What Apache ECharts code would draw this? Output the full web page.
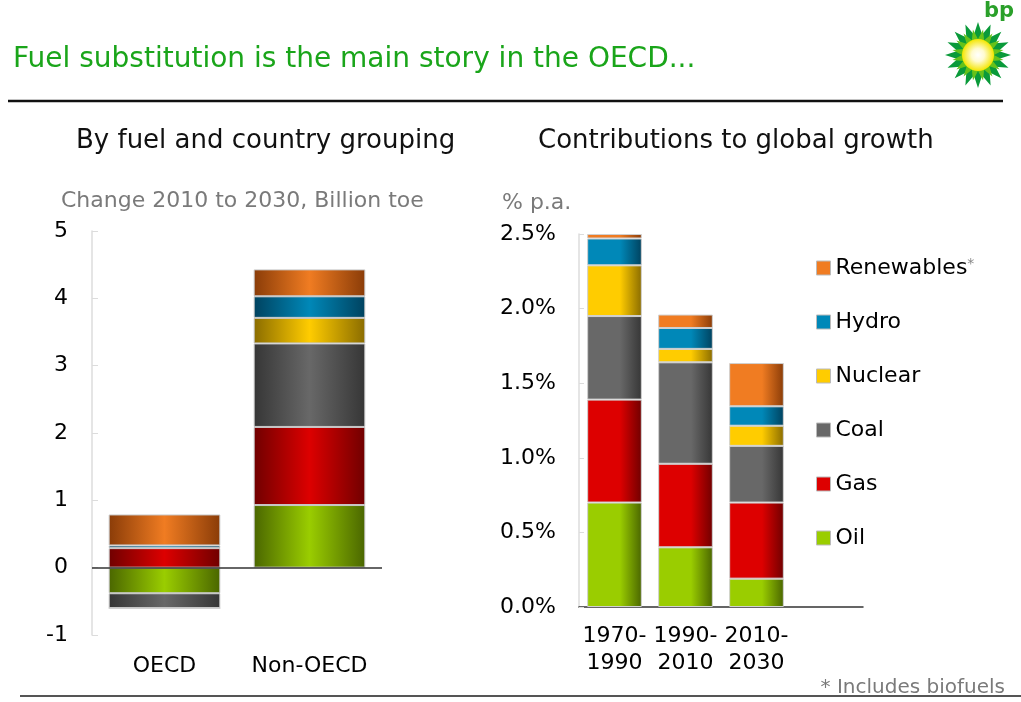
<!DOCTYPE html>
<html>
<head>
<meta charset="utf-8">
<script src="https://cdn.jsdelivr.net/npm/echarts@6/dist/echarts.min.js"></script>
<style>
  html, body { margin: 0; padding: 0; background: #fff; }
  #main { width: 1021px; height: 702px; }
</style>
</head>
<body>
<div id="main"></div>
<script>
// 左图：按燃料和国家分组（2010-2030 变化，十亿吨油当量）
const groups = ["OECD", "Non-OECD"];
const fuels = ["Oil", "Gas", "Coal", "Nuclear", "Hydro", "Renewables"];
const oecdChange = [-0.38, 0.29, -0.22, 0, 0.04, 0.46];
const nonOecdChange = [0.93, 1.16, 1.24, 0.38, 0.32, 0.40];
const leftTicks = [-1, 0, 1, 2, 3, 4, 5];

// 右图：对全球增长的贡献（% p.a.）
const periods = ["1970-\n1990", "1990-\n2010", "2010-\n2030", ""];
const growth1970 = [0.70, 0.69, 0.56, 0.34, 0.18, 0.03];
const growth1990 = [0.40, 0.56, 0.68, 0.09, 0.14, 0.09];
const growth2010 = [0.19, 0.51, 0.38, 0.135, 0.13, 0.29];
const rightTicks = [0, 0.5, 1.0, 1.5, 2.0, 2.5];

const FONT = "DejaVu Sans";

const colors = {
  Oil: ["#4a6600", "#9acd00"],
  Gas: ["#700000", "#dd0000"],
  Coal: ["#363636", "#686868"],
  Nuclear: ["#8a6c00", "#ffcc00"],
  Hydro: ["#00425f", "#0088b8"],
  Renewables: ["#8a3c08", "#f07c22"]
};

function grad(name, soft) {
  const c = colors[name];
  return {
    type: "linear", x: 0, y: 0, x2: 1, y2: 0,
    colorStops: soft
      ? [{ offset: 0, color: c[1] }, { offset: 0.6, color: c[1] }, { offset: 1, color: c[0] }]
      : [{ offset: 0, color: c[0] }, { offset: 0.5, color: c[1] }, { offset: 1, color: c[0] }]
  };
}

const chart = echarts.init(document.getElementById("main"));

const leftSeries = fuels.map((f, i) => ({
  name: f,
  type: "bar",
  stack: "left",
  xAxisIndex: 0,
  yAxisIndex: 0,
  barCategoryGap: "23%",
  itemStyle: { color: grad(f, false), borderColor: "#c8c8c8", borderWidth: 1 },
  data: [oecdChange[i], nonOecdChange[i]],
  markLine: i === 0 ? {
    silent: true, symbol: "none", label: { show: false },
    lineStyle: { color: "#333", width: 1.5, type: "solid" },
    data: [{ yAxis: 0 }]
  } : undefined
}));

const rightSeries = fuels.map((f, i) => ({
  name: f,
  type: "bar",
  stack: "right",
  xAxisIndex: 1,
  yAxisIndex: 1,
  barCategoryGap: "23%",
  itemStyle: { color: grad(f, true), borderColor: "#d0d0d0", borderWidth: 1 },
  data: [growth1970[i], growth1990[i], growth2010[i], null]
}));

// bp 标志的太阳花
function starPoints(cx, cy, rOut, rIn, n, rot) {
  const pts = [];
  for (let k = 0; k < n * 2; k++) {
    const r = k % 2 === 0 ? rOut : rIn;
    const a = rot + (Math.PI * k) / n;
    pts.push([cx + r * Math.sin(a), cy - r * Math.cos(a)]);
  }
  return pts;
}

const option = {
  animation: false,
  textStyle: { fontFamily: FONT },
  title: [
    { text: "Fuel substitution is the main story in the OECD...", left: 8, top: 41,
      textStyle: { fontFamily: FONT, fontSize: 28, fontWeight: "normal", color: "#1aa51a" } },
    { text: "By fuel and country grouping", left: 71, top: 123,
      textStyle: { fontFamily: FONT, fontSize: 26, fontWeight: "normal", color: "#111" } },
    { text: "Contributions to global growth", left: 533, top: 123,
      textStyle: { fontFamily: FONT, fontSize: 26, fontWeight: "normal", color: "#111" } },
    { text: "Change 2010 to 2030, Billion toe", left: 56, top: 185,
      textStyle: { fontFamily: FONT, fontSize: 22, fontWeight: "normal", color: "#7a7a7a" } },
    { text: "% p.a.", left: 497, top: 187,
      textStyle: { fontFamily: FONT, fontSize: 22, fontWeight: "normal", color: "#7a7a7a" } },
    { text: "* Includes biofuels", right: 11, top: 673,
      textStyle: { fontFamily: FONT, fontSize: 20, fontWeight: "normal", color: "#7a7a7a" } }
  ],
  legend: {
    orient: "vertical",
    left: 811,
    top: 252,
    itemWidth: 14,
    itemHeight: 14,
    itemGap: 32,
    icon: "rect",
    textStyle: { fontFamily: FONT, fontSize: 22, lineHeight: 22, color: "#000",
      rich: { sup: { fontSize: 14, color: "#888", verticalAlign: "top", padding: [0, 0, 10, 0] } } },
    formatter: name => name === "Renewables" ? name + "{sup|*}" : name,
    data: fuels.slice().reverse().map(f => ({ name: f, itemStyle: { color: colors[f][1], borderColor: "#bbb", borderWidth: 1 } }))
  },
  grid: [
    { left: 92, right: 639, top: 231, bottom: 67 },
    { left: 579, right: 158, top: 234, bottom: 95 }
  ],
  xAxis: [
    { type: "category", gridIndex: 0, data: groups,
      axisLine: { show: false, onZero: false }, axisTick: { show: false },
      axisLabel: { margin: 20, fontSize: 22, color: "#000", interval: 0 } },
    { type: "category", gridIndex: 1, data: periods,
      axisLine: { lineStyle: { color: "#333", width: 1.5 } }, axisTick: { show: false },
      axisLabel: { margin: 16, fontSize: 22, lineHeight: 27, color: "#000", interval: 0 } }
  ],
  yAxis: [
    { type: "value", gridIndex: 0, min: leftTicks[0], max: leftTicks[leftTicks.length - 1], interval: 1,
      splitLine: { show: false },
      axisLine: { show: true, lineStyle: { color: "#dcdcdc", width: 1.5 } },
      axisTick: { show: true, inside: true, length: 6, lineStyle: { color: "#dcdcdc" } },
      axisLabel: { margin: 24, fontSize: 22, color: "#000" } },
    { type: "value", gridIndex: 1, min: rightTicks[0], max: rightTicks[rightTicks.length - 1], interval: 0.5,
      splitLine: { show: false },
      axisLine: { show: true, lineStyle: { color: "#dcdcdc", width: 1.5 } },
      axisTick: { show: true, inside: true, length: 5, lineStyle: { color: "#dcdcdc" } },
      axisLabel: { margin: 23, fontSize: 22, color: "#000",
        formatter: v => v.toFixed(1) + "%" } }
  ],
  graphic: [
    { type: "line", shape: { x1: 8, y1: 101, x2: 1003, y2: 101 }, style: { stroke: "#111", lineWidth: 2.5 } },
    { type: "line", shape: { x1: 20, y1: 696, x2: 1021, y2: 696 }, style: { stroke: "#555", lineWidth: 2 } },
    { type: "text", left: 984, top: 1,
      style: { text: "bp", fontFamily: FONT, fontSize: 21, fontWeight: "bold", fill: "#2aa02a" } },
    { type: "polygon", shape: { points: starPoints(978, 55, 33, 21, 16, 0) }, style: { fill: "#0a9a3a" } },
    { type: "polygon", shape: { points: starPoints(978, 55, 26, 16, 16, Math.PI / 16) }, style: { fill: "#66c21a" } },
    { type: "circle", shape: { cx: 978, cy: 55, r: 16 },
      style: { fill: { type: "radial", x: 0.5, y: 0.5, r: 0.5,
        colorStops: [{ offset: 0, color: "#ffffff" }, { offset: 0.4, color: "#fffbd0" }, { offset: 1, color: "#f4e600" }] } } }
  ],
  series: leftSeries.concat(rightSeries)
};

chart.setOption(option);
window.onresize = () => chart.resize();
</script>
</body>
</html>
